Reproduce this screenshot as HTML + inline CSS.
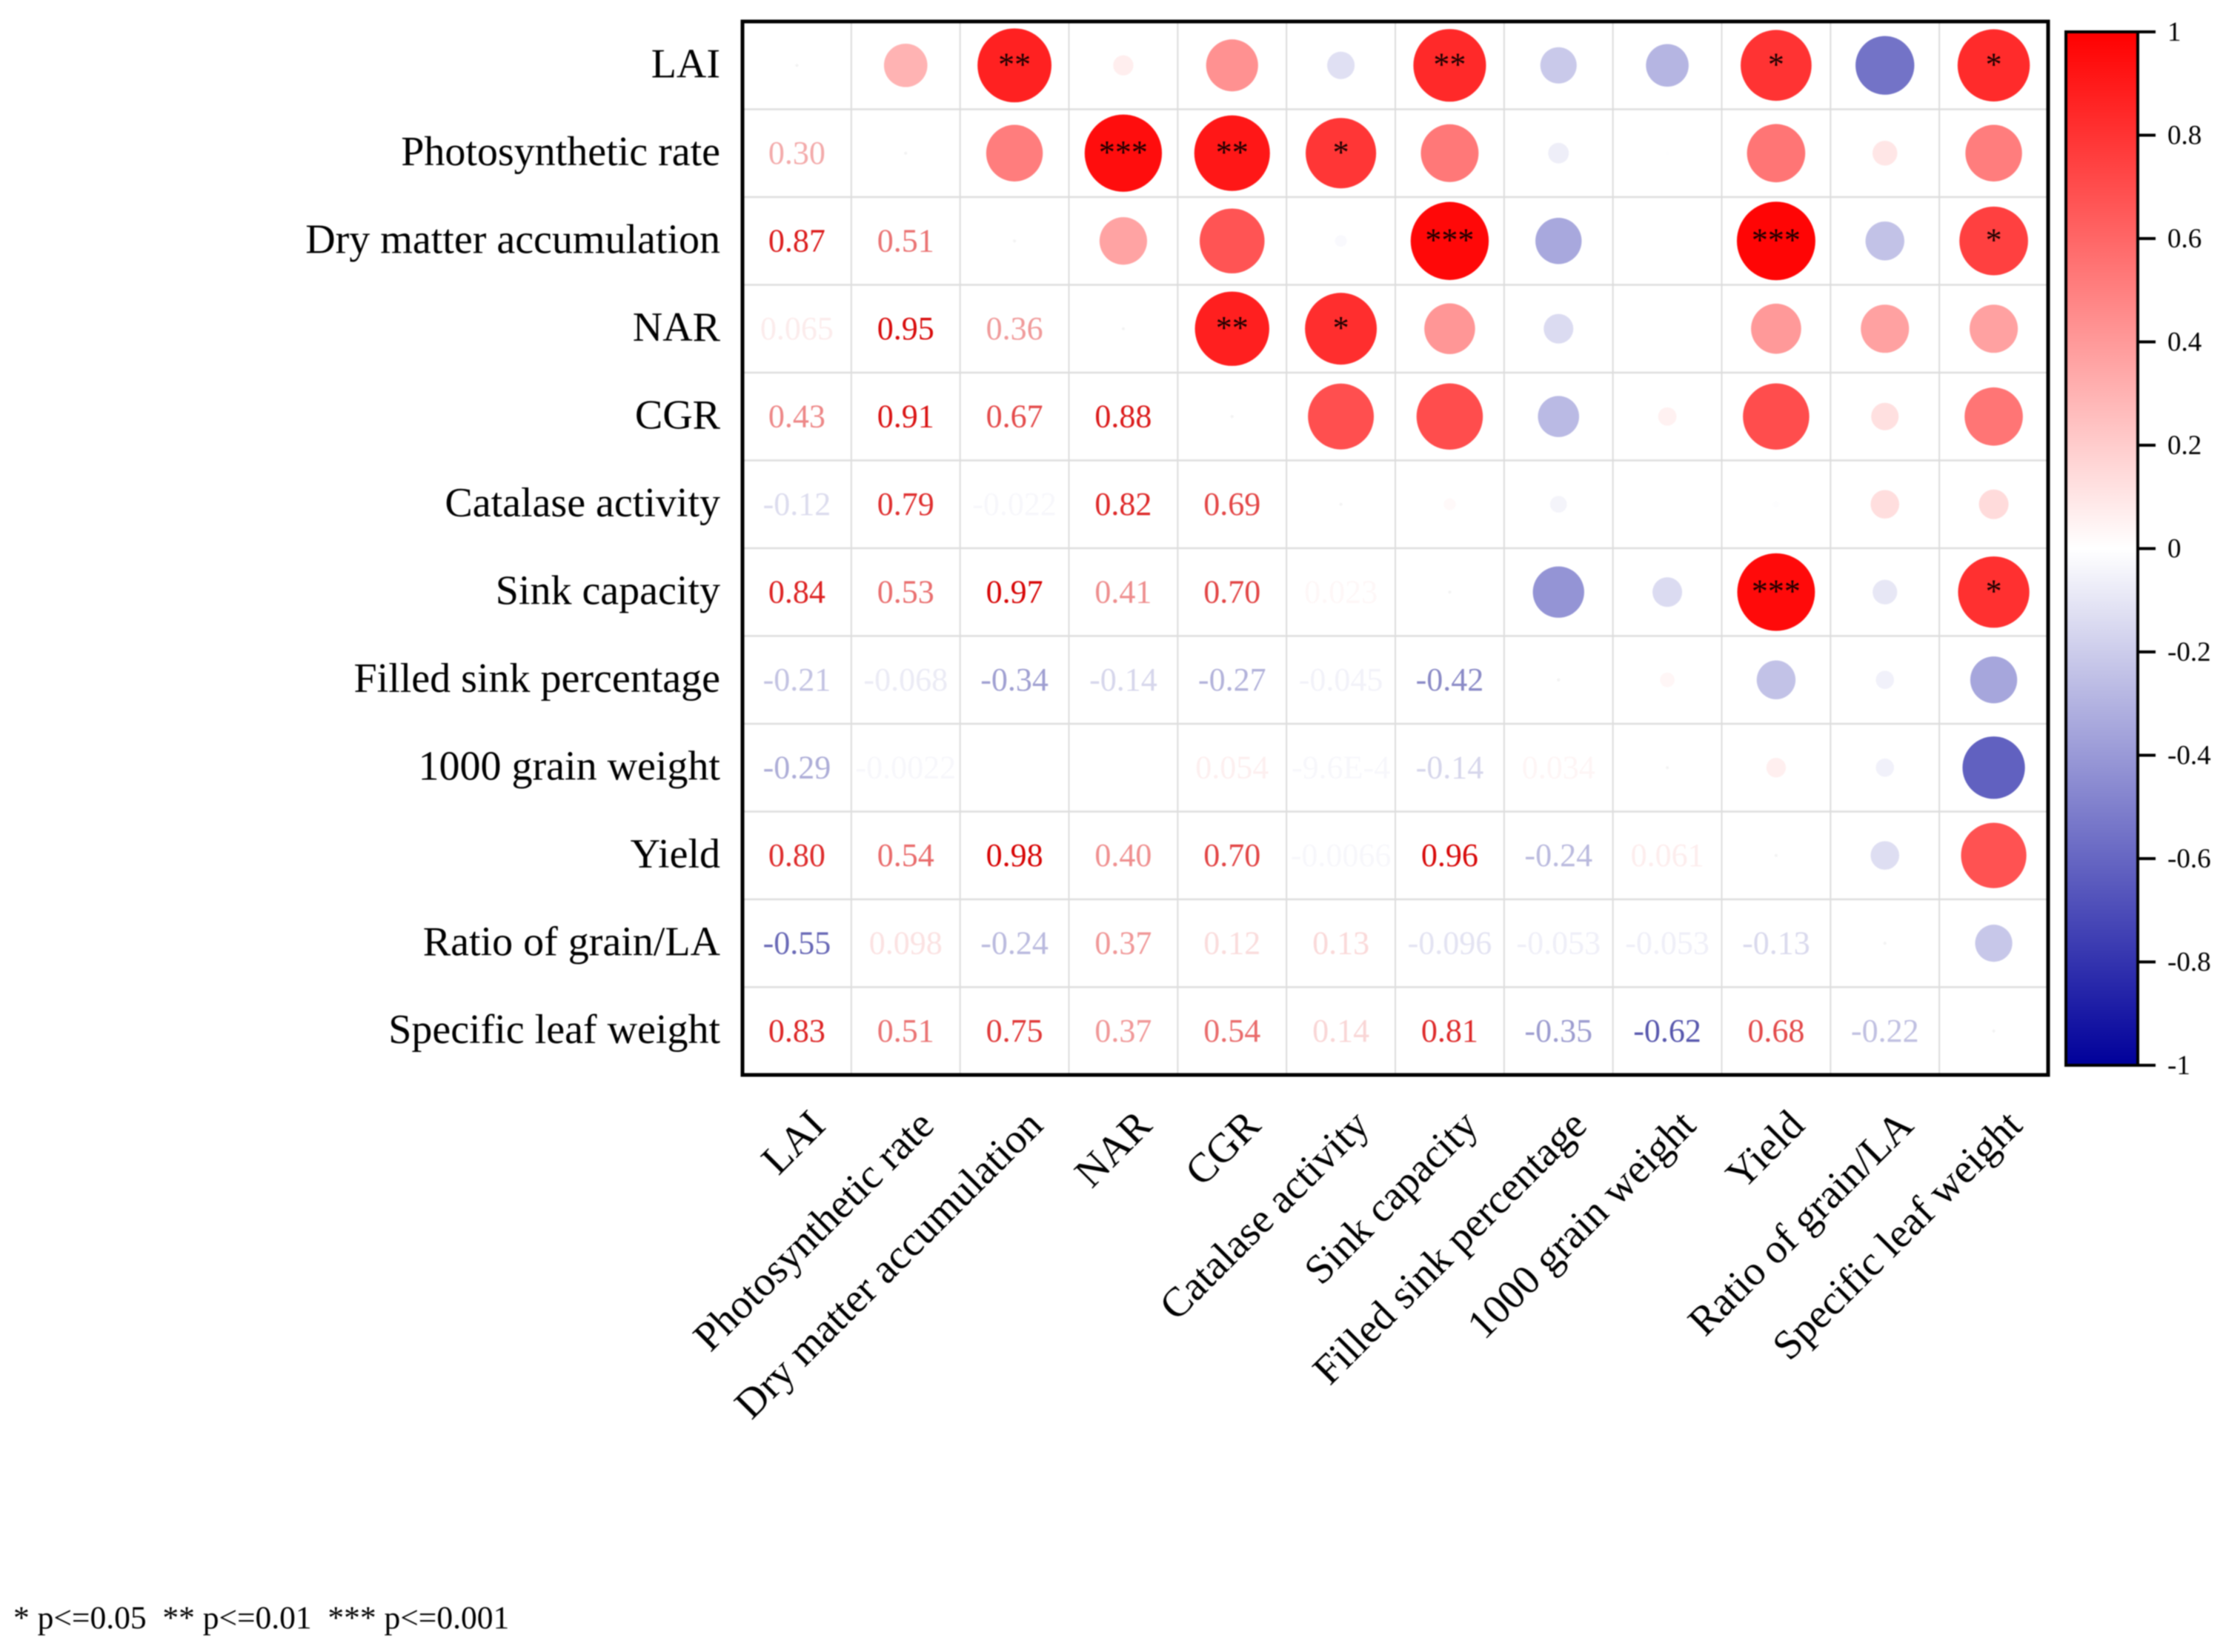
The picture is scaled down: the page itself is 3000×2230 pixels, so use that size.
<!DOCTYPE html>
<html lang="en">
<head>
<meta charset="utf-8">
<title>Correlation matrix</title>
<style>
html,body{margin:0;padding:0;background:#fff;width:3000px;height:2230px;overflow:hidden}
svg{display:block;filter:blur(0.8px)}
text{font-family:"Liberation Serif","Times New Roman",serif}
</style>
</head>
<body>
<svg id="chart" xmlns="http://www.w3.org/2000/svg" width="3000" height="2230" viewBox="0 0 3000 2230">
<defs>
<linearGradient id="cbGrad" x1="0" y1="0" x2="0" y2="1">
<stop offset="0" stop-color="#ff0000"/>
<stop offset="0.5" stop-color="#ffffff"/>
<stop offset="1" stop-color="#00009a"/>
</linearGradient>
</defs>
<rect width="3000" height="2230" fill="#fff"/>
<g id="grid"></g>
<g id="marks"></g>
<g id="rowLabels"></g>
<g id="colLabels"></g>
<rect x="1002" y="29" width="1762" height="1422" fill="none" stroke="#000" stroke-width="5"/>
<g id="colorbar"></g>
<text x="18" y="2198" font-size="43.5" fill="#000" style="white-space:pre">* p&lt;=0.05  ** p&lt;=0.01  *** p&lt;=0.001</text>
</svg>
<script>
const categories = ["LAI","Photosynthetic rate","Dry matter accumulation","NAR","CGR","Catalase activity","Sink capacity","Filled sink percentage","1000 grain weight","Yield","Ratio of grain/LA","Specific leaf weight"];
const rowPhotosynthetic = [0.30];
const rowDryMatter = [0.87,0.51];
const rowNAR = [0.065,0.95,0.36];
const rowCGR = [0.43,0.91,0.67,0.88];
const rowCatalase = [-0.12,0.79,-0.022,0.82,0.69];
const rowSink = [0.84,0.53,0.97,0.41,0.70,0.023];
const rowFilled = [-0.21,-0.068,-0.34,-0.14,-0.27,-0.045,-0.42];
const rowGrainWeight = [-0.29,-0.0022,0.00021,0.00034,0.054,-0.00096,-0.14,0.034];
const rowYield = [0.80,0.54,0.98,0.40,0.70,-0.0066,0.96,-0.24,0.061];
const rowRatio = [-0.55,0.098,-0.24,0.37,0.12,0.13,-0.096,-0.053,-0.053,-0.13];
const rowLeafWeight = [0.83,0.51,0.75,0.37,0.54,0.14,0.81,-0.35,-0.62,0.68,-0.22];
const significantRows = [0,0,0,0,1,1,1,2,2,2,3,3,6,6];
const significantCols = [2,6,9,11,3,4,5,6,9,11,4,5,9,11];
const significantStars = ["**","**","*","*","***","**","*","***","***","*","**","*","***","*"];
const colorbarTicks = [1,0.8,0.6,0.4,0.2,0,-0.2,-0.4,-0.6,-0.8,-1];

const NS = "http://www.w3.org/2000/svg";
const lowerRows = [[],rowPhotosynthetic,rowDryMatter,rowNAR,rowCGR,rowCatalase,rowSink,rowFilled,rowGrainWeight,rowYield,rowRatio,rowLeafWeight];
const plotLeft = 1002, plotTop = 29, plotWidth = 1762, plotHeight = 1422;
const cellW = plotWidth / categories.length, cellH = plotHeight / categories.length;
const maxRadius = 53.5;
function xPos(c){return plotLeft + (c + 0.5) * cellW;}
function yPos(r){return plotTop + (r + 0.5) * cellH;}
function radius(v){return maxRadius * Math.sqrt(Math.abs(v));}
function channels(v, t){
  const keep = 255 * (1 - t);
  if (v >= 0) return [255, keep, keep];
  return [keep, keep, 255 - t * (255 - 154)];
}
function color(v){
  const c = channels(v, Math.min(1, Math.abs(v)));
  return "rgb(" + Math.round(c[0]) + "," + Math.round(c[1]) + "," + Math.round(c[2]) + ")";
}
function textColor(v){
  const a = Math.min(1, Math.abs(v));
  const t = a >= 0.0005 ? Math.max(a, 0.028) : a;
  const shade = 1 - 0.16 * t;
  const c = channels(v, t);
  return "rgb(" + Math.round(c[0] * shade) + "," + Math.round(c[1] * shade) + "," + Math.round(c[2] * shade) + ")";
}
function formatValue(v){
  if (v !== 0 && Math.abs(v) < 0.001) {
    const e = v.toExponential(1).split("e");
    return e[0] + "E" + e[1];
  }
  return v.toPrecision(2);
}
function make(tag, parent, attrs, txt){
  const el = document.createElementNS(NS, tag);
  for (const k in attrs) el.setAttribute(k, attrs[k]);
  if (txt !== undefined) el.textContent = txt;
  parent.appendChild(el);
  return el;
}
const gridG = document.getElementById("grid");
const marksG = document.getElementById("marks");
const rowG = document.getElementById("rowLabels");
const colG = document.getElementById("colLabels");
const cbG = document.getElementById("colorbar");

for (let i = 1; i < categories.length; i++) {
  const vLine = make("line", gridG, {x1:plotLeft+i*cellW, x2:plotLeft+i*cellW, y1:plotTop, y2:plotTop+plotHeight, stroke:"#dcdcdc", "stroke-width":2});
  
  
  const hLine = make("line", gridG, {x1:plotLeft, x2:plotLeft+plotWidth, y1:plotTop+i*cellH, y2:plotTop+i*cellH, stroke:"#dedede", "stroke-width":2.5});
  
  
}

categories.forEach(function(name, i){
  const rowLabel = make("text", rowG, {x:972, y:yPos(i)+16, "text-anchor":"end", "font-size":56, fill:"#000"}, name);
  
  
  const ax = xPos(i)+41, ay = 1522;
  const colLabel = make("text", colG, {x:ax, y:ay, "text-anchor":"end", "font-size":56, fill:"#000", transform:"rotate(-45 "+ax+" "+ay+")"}, name);
  
  
});

lowerRows.forEach(function(row, r){
  row.forEach(function(v, c){
    const valueText = make("text", marksG, {x:xPos(c), y:yPos(r)+14, "text-anchor":"middle", "font-size":44, fill:textColor(v)}, formatValue(v));
    
    
    const dot = make("circle", marksG, {cx:xPos(r), cy:yPos(c), r:radius(v), fill:color(v)});
    
    
  });
});

categories.forEach(function(name, i){
  const diag = make("circle", marksG, {cx:xPos(i), cy:yPos(i), r:2, fill:"#f3f3f3"});
  
  
});

significantStars.forEach(function(s, i){
  const star = make("text", marksG, {x:xPos(significantCols[i]), y:yPos(significantRows[i])+13, "text-anchor":"middle", "font-size":44, fill:"#1a0000"}, s);
  
  
});

const cbLeft = 2788, cbRight = 2885, cbTop = 43, cbBottom = 1438;
function cbY(v){return cbTop + (1 - v) / 2 * (cbBottom - cbTop);}
const cbRect = make("rect", cbG, {x:cbLeft, y:cbTop, width:cbRight-cbLeft, height:cbBottom-cbTop, fill:"url(#cbGrad)", stroke:"#000", "stroke-width":4});


colorbarTicks.forEach(function(t){
  const tick = make("line", cbG, {x1:cbRight, x2:cbRight+24, y1:cbY(t), y2:cbY(t), stroke:"#000", "stroke-width":4});
  
  
  const tickLabel = make("text", cbG, {x:2925, y:cbY(t)+12, "font-size":37, fill:"#000"}, String(t));
  
  
});
</script>
</body>
</html>
